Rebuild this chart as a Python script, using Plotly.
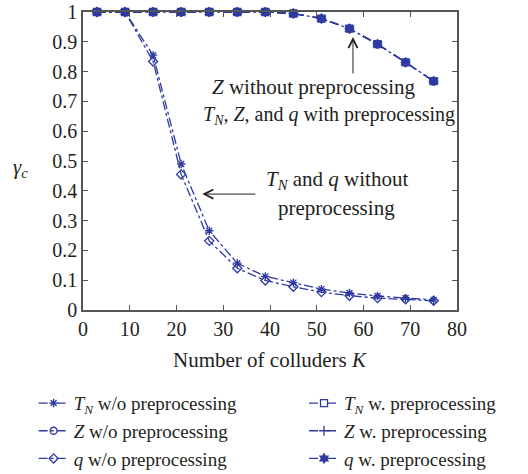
import plotly.graph_objects as go

# ---- data ----
K = [3, 9, 15, 21, 27, 33, 39, 45, 51, 57, 63, 69, 75]
tn_wo = [1, 1, 0.855, 0.49, 0.266, 0.157, 0.113, 0.092, 0.070, 0.057, 0.047, 0.040, 0.034]
z_wo = [1, 1, 1, 1, 1, 1, 1, 0.995, 0.978, 0.944, 0.892, 0.831, 0.768]
q_wo = [1, 1, 0.834, 0.455, 0.232, 0.140, 0.099, 0.078, 0.060, 0.048, 0.040, 0.036, 0.031]
tn_w = [1, 1, 1, 1, 1, 1, 1, 0.995, 0.978, 0.944, 0.892, 0.831, 0.768]
z_w = [1, 1, 1, 1, 1, 1, 1, 0.995, 0.978, 0.944, 0.892, 0.831, 0.768]
q_w = [1, 1, 1, 1, 1, 1, 1, 0.995, 0.978, 0.944, 0.892, 0.831, 0.768]

x_ticks = [0, 10, 20, 30, 40, 50, 60, 70, 80]
y_ticks = [0, 0.1, 0.2, 0.3, 0.4, 0.5, 0.6, 0.7, 0.8, 0.9, 1]
y_ticktext = ["0", "0.1", "0.2", "0.3", "0.4", "0.5", "0.6", "0.7", "0.8", "0.9", "1"]

BLUE = "#2f3aa0"
TXT = "#231f20"
AX = "#555555"
FONT = "Liberation Serif"

series = [
    ("<i>T<sub>N</sub></i> w/o preprocessing", tn_wo, "dashdot", "asterisk-open", "legend"),
    ("<i>Z</i> w/o preprocessing", z_wo, "dashdot", "circle-open", "legend"),
    ("<i>q</i> w/o preprocessing", q_wo, "dashdot", "diamond-open", "legend"),
    ("<i>T<sub>N</sub></i> w. preprocessing", tn_w, "dash", "square-open", "legend2"),
    ("<i>Z</i> w. preprocessing", z_w, "dash", "cross-thin-open", "legend2"),
    ("<i>q</i> w. preprocessing", q_w, "dash", "hexagram", "legend2"),
]

fig = go.Figure()
for name, ys, dash, sym, lg in series:
    fig.add_trace(go.Scatter(
        x=K, y=ys, name=name, mode="lines+markers", legend=lg,
        line=dict(color=BLUE, width=1.3, dash=dash),
        marker=dict(symbol=sym, size=7, color=BLUE, line=dict(color=BLUE, width=1.3)),
        cliponaxis=False,
    ))

axis_common = dict(showline=True, linecolor=AX, linewidth=1.5, mirror="ticks",
                   ticks="inside", ticklen=5, tickcolor=AX, tickwidth=1,
                   showgrid=False, zeroline=False,
                   tickfont=dict(family=FONT, size=20, color=TXT))

fig.update_xaxes(range=[0, 80], tickvals=x_ticks, **axis_common)
fig.update_yaxes(range=[0, 1], tickvals=y_ticks, ticktext=y_ticktext, **axis_common)

f21 = dict(family=FONT, size=21, color=TXT)
f20 = dict(family=FONT, size=20, color=TXT)
annotations = [
    dict(x=0.5, y=-0.168, xref="paper", yref="paper", xanchor="center", yanchor="middle",
         text="Number of colluders <i>K</i>", showarrow=False, font=f21),
    dict(x=-0.168, y=0.477, xref="paper", yref="paper", xanchor="center", yanchor="middle",
         text="<i>γ<sub>c</sub></i>", showarrow=False, font=f21),
    dict(x=49.4, y=0.748, xanchor="center", yanchor="middle",
         text="<i>Z</i> without preprocessing", showarrow=False, font=f21),
    dict(x=52.6, y=0.654, xanchor="center", yanchor="middle",
         text="<i>T<sub>N</sub></i>, <i>Z</i>, and <i>q</i> with preprocessing",
         showarrow=False, font=f20),
    dict(x=54.3, y=0.436, xanchor="center", yanchor="middle",
         text="<i>T<sub>N</sub></i> and <i>q</i> without", showarrow=False, font=f21),
    dict(x=54.3, y=0.342, xanchor="center", yanchor="middle",
         text="preprocessing", showarrow=False, font=f21),
    dict(x=57.75, y=0.916, ax=57.75, ay=0.789, axref="x", ayref="y", text="",
         showarrow=True, arrowhead=5, arrowsize=1.8, arrowwidth=1, arrowcolor=TXT),
    dict(x=25.5, y=0.389, ax=37.2, ay=0.389, axref="x", ayref="y", text="",
         showarrow=True, arrowhead=5, arrowsize=1.8, arrowwidth=1, arrowcolor=TXT),
]

leg_common = dict(orientation="v", yanchor="top", xanchor="left",
                  font=dict(family=FONT, size=19, color=TXT),
                  bgcolor="rgba(0,0,0,0)", itemwidth=30, tracegroupgap=0)

fig.update_layout(
    width=528, height=474,
    margin=dict(l=83, r=71, t=12, b=164, autoexpand=False),
    paper_bgcolor="white", plot_bgcolor="white",
    font=dict(family=FONT, size=20, color=TXT),
    annotations=annotations,
    showlegend=True,
    legend=dict(x=-0.132, y=-0.249, **leg_common),
    legend2=dict(x=0.591, y=-0.249, **leg_common),
)

fig.write_html("out.html")
